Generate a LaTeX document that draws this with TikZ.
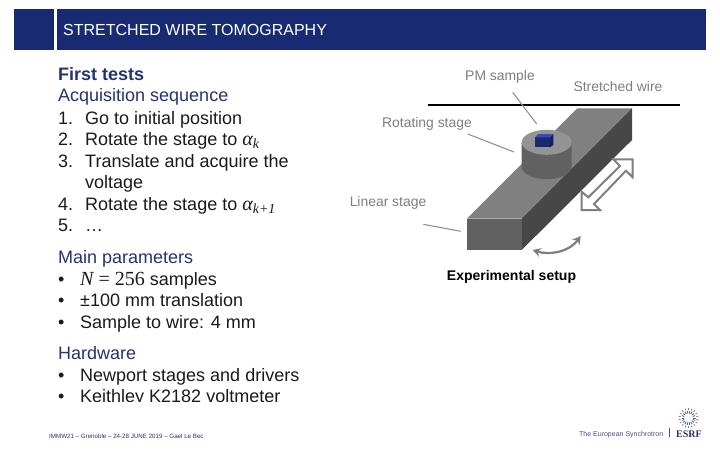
\documentclass[tikz,border=0pt]{standalone}
\usepackage{fontspec}
\setmainfont{Liberation Sans}
\newfontfamily\mathlike{Liberation Serif}
\usetikzlibrary{arrows.meta,calc}
\definecolor{navy}{HTML}{182A72}
\definecolor{headblue}{HTML}{25336F}
\definecolor{labelgray}{HTML}{7F7F7F}
\definecolor{bodyblack}{HTML}{1A1A1A}
\newcommand{\alsub}[1]{{\mathlike\fontsize{20}{20}\selectfont\itshape α\raisebox{-3pt}{\fontsize{14}{14}\selectfont #1}}}
\tikzset{
  x=1pt,y=-1pt,
  body/.style={anchor=base west,inner sep=0pt,font=\fontsize{18}{20}\selectfont,text=bodyblack},
  head/.style={body,text=headblue},
  lab/.style={anchor=center,inner sep=0pt,font=\fontsize{13.9}{15}\selectfont,text=labelgray},
  leader/.style={draw=labelgray!85,line width=1.1pt}
}
\begin{document}
\begin{tikzpicture}
\useasboundingbox (0,0) rectangle (720,450);
\fill[white] (0,0) rectangle (720,450);
% banner
\fill[navy] (14,9) rectangle (54,50);
\fill[navy] (57,9) rectangle (706,50);
\node[anchor=base west,inner sep=0pt,text=white,font=\fontsize{16}{18}\selectfont] (title) at (63,35) {STRETCHED WIRE TOMOGRAPHY};
% text column
\node[head,font=\fontsize{18}{20}\bfseries\selectfont] (t1) at (58,80.3) {First tests};
\node[head] (t2) at (58,101.7) {Acquisition sequence};
\node[body] (n1) at (58,124) {1.};
\node[body] (l1) at (85,124) {Go to initial position};
\node[body] (n2) at (58,145.7) {2.};
\node[body] (l2) at (85,145.7) {Rotate the stage to \alsub{k}};
\node[body] (n3) at (58,167) {3.};
\node[body] (l3) at (85,167) {Translate and acquire the};
\node[body] (l3b) at (85,188) {voltage};
\node[body] (n4) at (58,210) {4.};
\node[body] (l4) at (85,210) {Rotate the stage to \alsub{k+1}};
\node[body] (n5) at (58,231.7) {5.};
\node[body] (l5) at (85,231.7) {…};
\node[head] (t3) at (58,263.3) {Main parameters};
\node[body] (b1) at (58,285) {•};
\node[body] (p1) at (80,285) {{\mathlike\fontsize{20}{20}\selectfont{\itshape N}\hspace{5pt}=\hspace{5pt}256} samples};
\node[body] (b2) at (58,306.7) {•};
\node[body] (p2) at (80,306.7) {±100 mm translation};
\node[body] (b3) at (58,328) {•};
\node[body] (p3) at (80,328) {Sample to wire: 4 mm};
\node[head] (t4) at (58,359) {Hardware};
\node[body] (b4) at (58,381) {•};
\node[body] (p4) at (80,381) {Newport stages and drivers};
\begin{scope}
\clip (40,385) rectangle (340,401);
\node[body] (b5) at (58,402) {•};
\node[body] (p5) at (80,402) {Keithley K2182 voltmeter};
\end{scope}
% linear stage
\fill[black!50] (467,218.7) -- (577.3,108.3) -- (632,108.3) -- (521.7,218.7) -- cycle;
\fill[black!72] (521.7,218.7) -- (632,108.3) -- (632,140) -- (521.7,250) -- cycle;
\fill[black!62] (467,218.7) rectangle (521.7,250);
% rotating stage
\fill[black!62] (521.7,142.3) -- (521.7,166.7) arc[start angle=180,end angle=0,x radius=25,y radius=12.5] -- (571.7,142.3) -- cycle;
\fill[black!42] (546.7,142.3) ellipse[x radius=25,y radius=12.5];
% sample
\fill[navy] (535,137.3) rectangle (550,147.3);
\fill[navy!80!black] (550,137.3) -- (553.3,134) -- (553.3,145) -- (550,147.3) -- cycle;
\fill[blue!45!navy!80] (535,137.3) -- (538.3,134) -- (553.3,134) -- (550,137.3) -- cycle;
% wire
\coordinate (w1) at (428,105);
\coordinate (w2) at (680,105);
\draw[line width=2.8pt,black] (w1) -- (w2);
% labels and leaders
\node[lab] (pm) at (500,76.5) {PM sample};
\node[lab] (sw) at (618,86.5) {Stretched wire};
\node[lab] (rs) at (427,123.5) {Rotating stage};
\node[lab] (ls) at (388,202.5) {Linear stage};
\coordinate (pm1) at (512.7,92.3); \coordinate (pm2) at (536.7,124);
\coordinate (rs1) at (467.7,134); \coordinate (rs2) at (514,152);
\coordinate (ls1) at (423.3,224.3); \coordinate (ls2) at (460.7,231.3);
\draw[leader] (pm1) -- (pm2);
\draw[leader] (rs1) -- (rs2);
\draw[leader] (ls1) -- (ls2);
% hollow double arrow
\draw[draw=labelgray,line width=2pt,fill=white,line join=miter]
 (632.7,159.3) -- (632.7,177.3) -- (626,170.7) -- (594,204) -- (600,210) -- (581.7,210)
 -- (581.7,191.7) -- (588.3,197.3) -- (620,166) -- (613.3,159.3) -- cycle;
% rotation arrow
\coordinate (r1) at (532.7,250);
\coordinate (r2) at (580.7,236);
\draw[draw=labelgray,line width=2.2pt,{Stealth[length=8pt,width=9pt]}-{Stealth[length=8pt,width=9pt]}]
 (r1) .. controls (548,255) and (568,253) .. (r2);
\node[anchor=center,inner sep=0pt,font=\fontsize{14}{15}\bfseries\selectfont,text=black] (cap) at (511.5,276.5) {Experimental setup};
% footer
\node[anchor=base west,inner sep=0pt,font=\fontsize{6.2}{7}\selectfont,text=headblue] (foot) at (49,438) {IMMW21 – Grenoble – 24-28 JUNE 2019 – Gael Le Bec};
\node[anchor=base west,inner sep=0pt,font=\fontsize{7}{8}\selectfont,text=headblue!85] (euro) at (579,436) {The European Synchrotron};
\coordinate (bar1) at (669,428); \coordinate (bar2) at (669,437);
\draw[headblue!85,line width=0.6pt] (bar1) -- (bar2);
\node[anchor=base west,inner sep=0pt,font=\fontsize{10}{11}\bfseries\selectfont,text=headblue] (esrf) at (676,437) {\mathlike\bfseries ESRF};
\foreach \a in {0,20,...,340}{
  \draw[headblue!80,line width=0.8pt] ($(688.5,418)+(\a:4.5)$) -- ($(688.5,418)+(\a:7)$);
}
\foreach \a in {10,30,...,350}{
  \draw[headblue!65,line width=0.7pt] ($(688.5,418)+(\a:8)$) -- ($(688.5,418)+(\a:10)$);
}
\end{tikzpicture}
\end{document}
